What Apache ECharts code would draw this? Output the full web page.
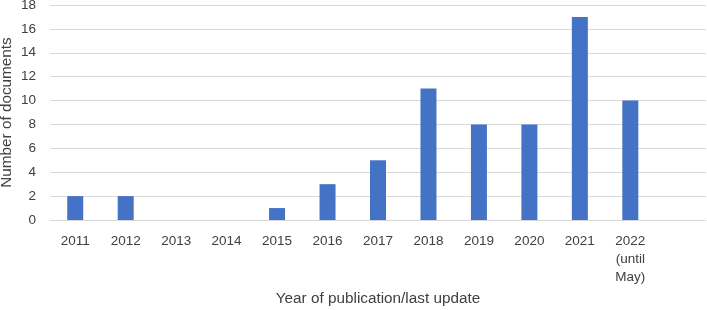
<!DOCTYPE html>
<html><head><meta charset="utf-8">
<script src="https://cdn.jsdelivr.net/npm/echarts@6/dist/echarts.min.js"></script>
<style>html,body{margin:0;padding:0;background:#fff}#c{width:707px;height:310px}</style>
</head><body><div id="c"></div>
<script>
const categories = ['2011','2012','2013','2014','2015','2016','2017','2018','2019','2020','2021','2022\n(until\nMay)',''];
const documents = [2,2,0,0,1,3,5,11,8,8,17,10,null];
const yTicks = {min:0, max:18, interval:2};
const xTitle = 'Year of publication/last update';
const yTitle = 'Number of documents';

const font = 'Liberation Sans';
const chart = echarts.init(document.getElementById('c'), null, {renderer:'canvas'});
chart.setOption({
  animation:false,
  grid:{left:50, right:1, top:5, bottom:90, containLabel:false, outerBoundsMode:'none'},
  xAxis:{
    type:'category', data:categories,
    axisLine:{show:true, lineStyle:{color:'#d9d9d9', width:1}},
    axisTick:{show:false},
    axisLabel:{color:'#404040', fontFamily:font, fontSize:13.5, margin:12, lineHeight:18, interval:0, verticalAlign:'top'},
    name:xTitle, nameLocation:'middle', nameGap:71, nameMoveOverlap:false,
    nameTextStyle:{color:'#404040', fontFamily:font, fontSize:15.3}
  },
  yAxis:{
    type:'value', min:yTicks.min, max:yTicks.max, interval:yTicks.interval,
    axisLine:{show:false}, axisTick:{show:false},
    splitLine:{lineStyle:{color:'#d9d9d9', width:1}},
    axisLabel:{color:'#404040', fontFamily:font, fontSize:13.5, margin:14},
    name:yTitle, nameLocation:'middle', nameGap:36, nameRotate:90, nameMoveOverlap:false,
    nameTextStyle:{color:'#404040', fontFamily:font, fontSize:15.3}
  },
  series:[{type:'bar', data:documents, barWidth:16, itemStyle:{color:'#4472C4'}}]
});
</script></body></html>
